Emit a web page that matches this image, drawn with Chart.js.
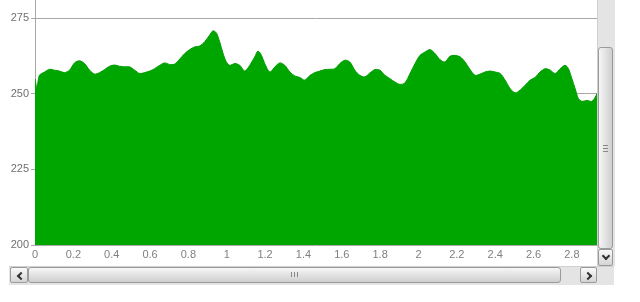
<!DOCTYPE html>
<html>
<head>
<meta charset="utf-8">
<script src="https://cdn.jsdelivr.net/npm/chart.js@4/dist/chart.umd.min.js"></script>
<style>
  body { margin: 0; background: #fff; width: 640px; height: 302px; overflow: hidden; position: relative; }
  #wrap { position: absolute; left: 0; top: 0; width: 597px; height: 266px; }
  .bar { position: absolute; background: #e4e4e4; }
  .btn { position: absolute; box-sizing: border-box; border: 1px solid #9a9a9a; border-radius: 2px;
         background: linear-gradient(#fafafa, #d4d4d4); }
  .chev { position: absolute; width: 4px; height: 4px; border-right: 2px solid #333; border-bottom: 2px solid #333; }
  .grip { position: absolute; background: #888; }
</style>
</head>
<body>
<div id="wrap"><canvas id="chart" width="597" height="266"></canvas></div>

<!-- vertical scrollbar -->
<div class="bar" style="left:597px;top:0;width:17px;height:266px;border-left:1px solid #cfcfcf;"></div>
<div class="btn" style="left:598px;top:47px;width:15px;height:202px;border-radius:3px;background:linear-gradient(to right,#f6f6f6,#cfcfcf);"></div>
<div class="grip" style="left:603px;top:145px;width:5px;height:1px;"></div>
<div class="grip" style="left:603px;top:148px;width:5px;height:1px;"></div>
<div class="grip" style="left:603px;top:151px;width:5px;height:1px;"></div>
<div class="btn" style="left:598px;top:249px;width:15px;height:17px;"><div class="chev" style="left:4px;top:3px;transform:rotate(45deg);"></div></div>

<!-- horizontal scrollbar -->
<div class="bar" style="left:9px;top:266px;width:605px;height:18px;border-top:1px solid #cfcfcf;"></div>
<div class="btn" style="left:10px;top:267px;width:18px;height:16px;"><div class="chev" style="left:7px;top:5px;transform:rotate(135deg);"></div></div>
<div class="btn" style="left:28px;top:267px;width:533px;height:16px;border-radius:3px;background:linear-gradient(#f6f6f6,#cfcfcf);"></div>
<div class="grip" style="left:291px;top:272px;width:1px;height:5px;"></div>
<div class="grip" style="left:294px;top:272px;width:1px;height:5px;"></div>
<div class="grip" style="left:297px;top:272px;width:1px;height:5px;"></div>
<div class="btn" style="left:580px;top:267px;width:17px;height:16px;"><div class="chev" style="left:4px;top:5px;transform:rotate(-45deg);"></div></div>

<script>
// distance (x) and value samples
const distance = [0, 0.01, 0.023, 0.05, 0.076, 0.102, 0.128, 0.154, 0.18, 0.206, 0.232, 0.258, 0.285, 0.311, 0.337,
  0.363, 0.389, 0.415, 0.441, 0.467, 0.493, 0.52, 0.546, 0.572, 0.598, 0.624, 0.65, 0.676, 0.702, 0.728, 0.755,
  0.781, 0.807, 0.833, 0.859, 0.885, 0.911, 0.928, 0.946, 0.963, 0.981, 0.998, 1.016, 1.042, 1.068, 1.094, 1.12,
  1.146, 1.163, 1.181, 1.198, 1.225, 1.251, 1.277, 1.303, 1.329, 1.355, 1.381, 1.407, 1.433, 1.46, 1.486, 1.512,
  1.538, 1.564, 1.59, 1.616, 1.642, 1.668, 1.694, 1.72, 1.747, 1.773, 1.799, 1.825, 1.851, 1.877, 1.903, 1.929,
  1.956, 1.982, 2.008, 2.034, 2.06, 2.086, 2.112, 2.138, 2.164, 2.19, 2.217, 2.243, 2.269, 2.295, 2.321, 2.347,
  2.373, 2.399, 2.426, 2.452, 2.478, 2.504, 2.53, 2.556, 2.582, 2.608, 2.634, 2.661, 2.687, 2.713, 2.739, 2.765,
  2.782, 2.8, 2.817, 2.834, 2.852, 2.878, 2.904, 2.922, 2.931];
const level = [255.0, 252.0, 256.1, 257.2, 258.1, 257.8, 257.5, 257.0, 257.8, 260.2, 260.9, 260.0, 257.8, 256.5, 257.0,
  258.0, 259.1, 259.5, 259.1, 258.9, 258.9, 257.8, 256.7, 257.0, 257.5, 258.3, 259.4, 260.2, 259.7, 259.8, 261.5,
  263.3, 264.6, 265.5, 265.8, 267.2, 269.4, 270.8, 270.1, 267.2, 263.3, 260.5, 259.4, 260.0, 259.4, 257.5, 259.4,
  262.2, 264.1, 262.7, 260.0, 257.2, 258.9, 260.2, 259.4, 257.2, 255.9, 255.4, 254.5, 256.0, 257.0, 257.5, 258.0,
  258.1, 258.3, 260.0, 261.1, 260.5, 257.8, 256.1, 255.6, 256.9, 258.0, 257.8, 256.1, 255.0, 253.9, 253.1, 253.6,
  256.7, 260.0, 262.7, 263.8, 264.6, 263.3, 261.3, 260.5, 262.4, 262.7, 262.2, 260.5, 258.0, 256.1, 256.5, 257.2,
  257.5, 257.2, 256.7, 254.5, 251.7, 250.3, 251.2, 252.8, 254.5, 255.4, 257.2, 258.3, 257.8, 256.7, 258.3, 259.4,
  258.3, 255.0, 251.7, 248.4, 247.5, 247.8, 247.5, 248.9, 250.1];
const xTicks = [0, 0.2, 0.4, 0.6, 0.8, 1, 1.2, 1.4, 1.6, 1.8, 2, 2.2, 2.4, 2.6, 2.8];
const yTicks = [200, 225, 250, 275];

const tickFont = { family: '"Liberation Sans", Arial, sans-serif', size: 11 };

new Chart(document.getElementById('chart'), {
  type: 'line',
  data: {
    datasets: [{
      data: distance.map((x, i) => ({ x, y: level[i] })),
      fill: 'start',
      backgroundColor: '#00a600',
      borderColor: '#009c00',
      borderWidth: 1,
      pointRadius: 0,
      tension: 0.3
    }]
  },
  options: {
    responsive: false,
    animation: false,
    layout: { padding: 0 },
    plugins: { legend: { display: false }, tooltip: { enabled: false } },
    scales: {
      x: {
        type: 'linear',
        min: 0,
        max: 2.931,
        afterBuildTicks: s => { s.ticks = xTicks.map(v => ({ value: v })); },
        afterFit: s => { s.height = 21; s.paddingLeft = 0; s.paddingRight = 0; },
        grid: { display: false, drawTicks: false, tickLength: 0 },
        border: { display: false },
        ticks: { font: tickFont, color: '#808080', padding: 3, maxRotation: 0, autoSkip: false,
                 callback: v => String(+v.toFixed(2)) }
      },
      y: {
        min: 200,
        max: 281,
        afterBuildTicks: s => { s.ticks = yTicks.map(v => ({ value: v })); },
        afterFit: s => { s.width = 35; s.paddingTop = 0; s.paddingBottom = 0; },
        grid: { color: '#a8a8a8', tickLength: 4 },
        border: { color: '#a8a8a8' },
        ticks: { font: tickFont, color: '#707070', padding: 2 }
      }
    }
  }
});
</script>
</body>
</html>
